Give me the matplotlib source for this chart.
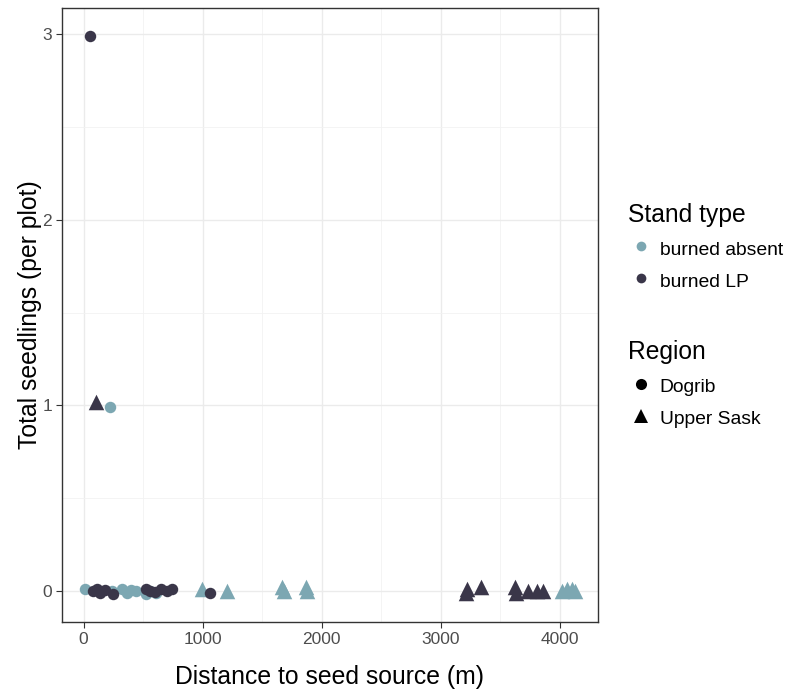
import matplotlib.pyplot as plt
from matplotlib.lines import Line2D
from matplotlib.ticker import MultipleLocator

plt.rcParams["font.family"] = ["Liberation Sans", "DejaVu Sans"]

# Dogrib (circles)
dogrib_absent_x = [10, 220, 235, 320, 360, 400, 440, 520, 560, 610]
dogrib_absent_y = [0.01, 0.99, 0.0, 0.01, -0.01, 0.005, 0.0, -0.015, 0.0, -0.01]
dogrib_lp_x = [50, 80, 110, 140, 180, 250, 520, 560, 600, 650, 700, 740, 1060]
dogrib_lp_y = [2.99, 0.0, 0.01, -0.01, 0.005, -0.015, 0.01, 0.0, -0.005, 0.01, 0.0, 0.01, -0.01]

# Upper Sask (triangles)
sask_absent_x = [990, 1200, 1670, 1680, 1870, 1880, 4020, 4060, 4100, 4130]
sask_absent_y = [0.01, 0.0, 0.02, 0.0, 0.02, 0.0, 0.0, 0.01, 0.01, 0.0]
sask_lp_x = [100, 3210, 3220, 3340, 3620, 3630, 3730, 3810, 3860]
sask_lp_y = [1.02, -0.01, 0.01, 0.02, 0.02, -0.01, 0.0, 0.0, 0.0]

stand_labels = ["burned absent", "burned LP"]
region_labels = ["Dogrib", "Upper Sask"]

LIGHT = "#7ca7b2"
DARK = "#3a3649"

fig = plt.figure(figsize=(7.9, 6.96), dpi=100)
ax = fig.add_axes([0.078, 0.106, 0.679, 0.8825])

ax.scatter(dogrib_absent_x, dogrib_absent_y, s=68, marker="o", color=LIGHT, linewidths=0, zorder=3)
ax.scatter(sask_absent_x, sask_absent_y, s=125, marker="^", color=LIGHT, linewidths=0, zorder=3)
ax.scatter(dogrib_lp_x, dogrib_lp_y, s=68, marker="o", color=DARK, linewidths=0, zorder=4)
ax.scatter(sask_lp_x, sask_lp_y, s=125, marker="^", color=DARK, linewidths=0, zorder=4)

ax.set_xlim(-185, 4320)
ax.set_ylim(-0.167, 3.14)
ax.xaxis.set_major_locator(MultipleLocator(1000))
ax.xaxis.set_minor_locator(MultipleLocator(500))
ax.yaxis.set_major_locator(MultipleLocator(1))
ax.yaxis.set_minor_locator(MultipleLocator(0.5))
ax.grid(True, which="major", color="#ebebeb", linewidth=1.0, zorder=0)
ax.grid(True, which="minor", color="#f2f2f2", linewidth=0.6, zorder=0)
ax.set_axisbelow(True)
ax.tick_params(which="major", length=4, width=0.8, color="#333333", labelsize=12.5, labelcolor="#4d4d4d", pad=3)
ax.tick_params(which="minor", length=0)
for sp in ax.spines.values():
    sp.set_color("#333333")
    sp.set_linewidth(1.0)

ax.set_xlabel("Distance to seed source (m)", fontsize=17.8, labelpad=13)
ax.set_ylabel("Total seedlings (per plot)", fontsize=17.8, labelpad=0)

stand_handles = [
    Line2D([], [], marker="o", linestyle="", markersize=7, color=LIGHT, markeredgewidth=0),
    Line2D([], [], marker="o", linestyle="", markersize=7, color=DARK, markeredgewidth=0),
]
region_handles = [
    Line2D([], [], marker="o", linestyle="", markersize=8, color="black", markeredgewidth=0),
    Line2D([], [], marker="^", linestyle="", markersize=10, color="black", markeredgewidth=0),
]

leg_kw = dict(loc="upper left", frameon=False, fontsize=13.9, title_fontsize=17.7,
              handletextpad=0.25, labelspacing=0.6, handleheight=1.2,
              handlelength=1.4, borderaxespad=0)
leg1 = fig.legend(stand_handles, stand_labels, title="Stand type",
                  bbox_to_anchor=(0.785, 0.72), **leg_kw)
leg1._legend_box.align = "left"
leg2 = fig.legend(region_handles, region_labels, title="Region",
                  bbox_to_anchor=(0.785, 0.522), **leg_kw)
leg2._legend_box.align = "left"

fig.savefig("out.png", dpi=100)
